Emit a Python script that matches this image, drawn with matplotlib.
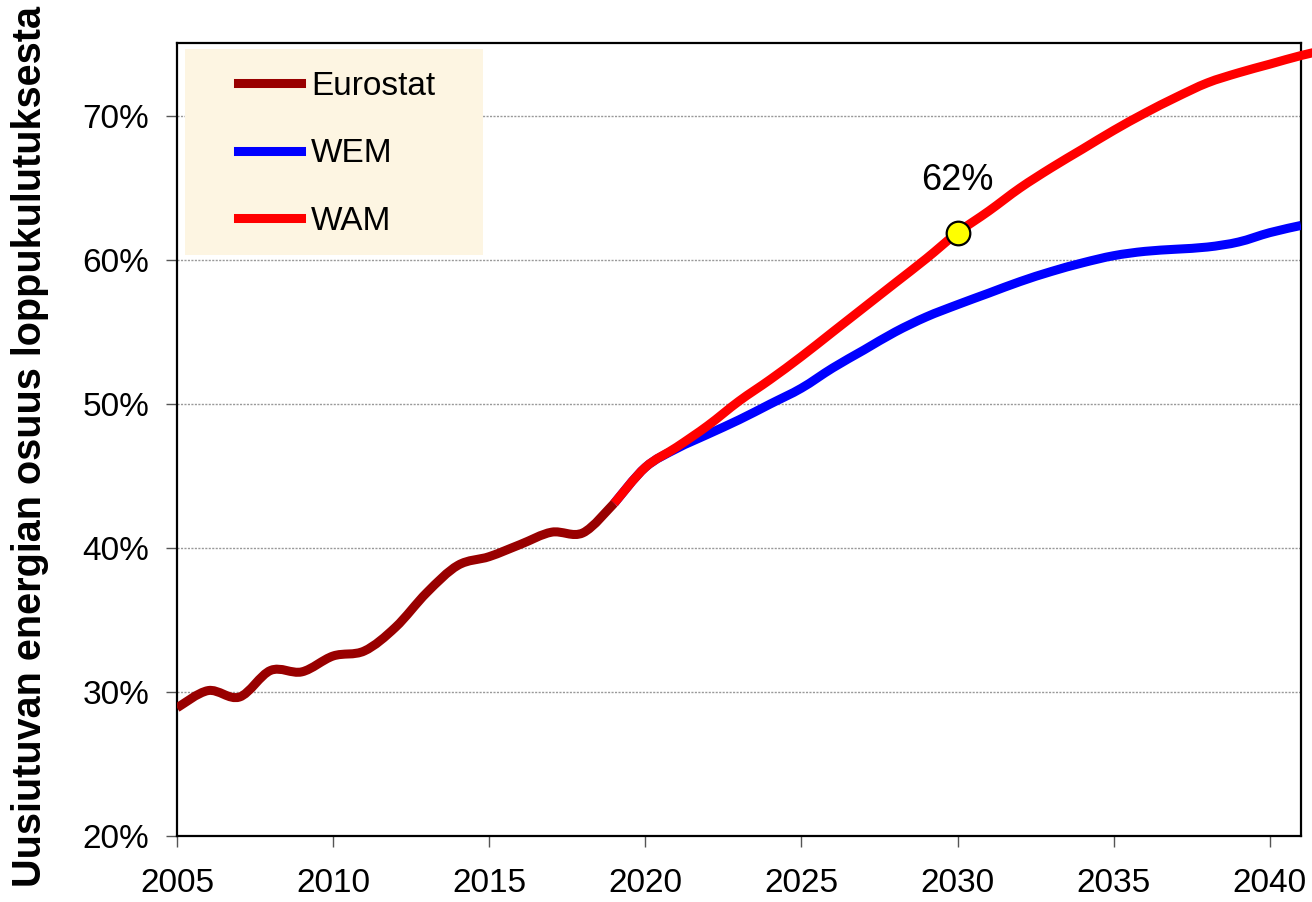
import matplotlib
matplotlib.use('Agg')
import matplotlib.pyplot as plt
from matplotlib.path import Path
from matplotlib.patches import PathPatch, Rectangle
from matplotlib.lines import Line2D
from matplotlib.ticker import FuncFormatter
import numpy as np

plt.rcParams['font.family'] = ['Liberation Sans', 'DejaVu Sans']

# Renewable share of final energy consumption (%)
eurostat_years = list(range(2005, 2020))
eurostat = [28.9, 30.1, 29.65, 31.5, 31.4, 32.5, 32.85, 34.5, 36.9, 38.8,
            39.4, 40.25, 41.1, 41.05, 43.1]

wem_years = list(range(2019, 2042))
wem = [43.1, 45.6, 46.9, 47.9, 48.9, 50.0, 51.1, 52.5, 53.75, 55.0, 56.05,
       56.9, 57.7, 58.5, 59.2, 59.8, 60.3, 60.6, 60.75, 60.9, 61.25, 61.9, 62.4]

wam_years = list(range(2019, 2043))
wam = [43.1, 45.6, 47.0, 48.5, 50.2, 51.7, 53.3, 55.0, 56.7, 58.4, 60.1,
       61.9, 63.4, 65.0, 66.4, 67.7, 69.0, 70.2, 71.3, 72.3, 73.0, 73.6, 74.2, 74.7]

target_year = 2030
target_value = 61.9
target_label = '62%'

labels = ['Eurostat', 'WEM', 'WAM']
colors = ['#990000', '#0000FF', '#FF0000']


def smooth_path(x, y):
    # Excel style smoothed line: cubic Bezier through every point
    pts = np.column_stack([x, y]).astype(float)
    n = len(pts)
    verts = [pts[0]]
    codes = [Path.MOVETO]
    for i in range(n - 1):
        p0 = pts[i - 1] if i > 0 else pts[i]
        p1 = pts[i]
        p2 = pts[i + 1]
        p3 = pts[i + 2] if i + 2 < n else pts[i + 1]
        verts += [p1 + (p2 - p0) / 6, p2 - (p3 - p1) / 6, p2]
        codes += [Path.CURVE4] * 3
    return Path(verts, codes)


fig = plt.figure(figsize=(13.12, 9.02), dpi=100)
ax = fig.add_axes([177 / 1312, 66 / 902, 1124 / 1312, 793 / 902])

lw = 6.5
for xs, ys, c, clip in [(wem_years, wem, colors[1], True),
                        (wam_years, wam, colors[2], False),
                        (eurostat_years, eurostat, colors[0], True)]:
    patch = PathPatch(smooth_path(xs, ys), facecolor='none', edgecolor=c,
                      lw=lw, capstyle='butt', joinstyle='round', zorder=3)
    patch.set_clip_on(clip)
    ax.add_patch(patch)

ax.plot([target_year], [target_value], 'o', ms=17, mfc='#FFFF00', mec='black',
        mew=1.6, zorder=5)
ax.text(target_year, target_value + 3.6, target_label, ha='center', va='center',
        fontsize=26, zorder=5)

ax.set_xlim(2005, 2041)
ax.set_ylim(20, 75.07)
ax.set_xticks(range(2005, 2041, 5))
ax.set_yticks(range(20, 71, 10))
ax.yaxis.set_major_formatter(FuncFormatter(lambda v, p: f'{v:.0f}%'))
ax.tick_params(axis='both', direction='out', length=8, width=1, color='#555555',
               labelsize=24)
ax.tick_params(axis='x', pad=15)
ax.tick_params(axis='y', pad=12)
ax.yaxis.grid(True, color='#999999', linestyle=(0, (1.5, 1)), lw=1)
ax.set_axisbelow(True)
for s in ax.spines.values():
    s.set_linewidth(1.6)
    s.set_color('black')

# legend background
ax.add_patch(Rectangle((0.0071, 0.7327), 0.265, 0.2597, transform=ax.transAxes,
                       facecolor='#FDF5E2', edgecolor='none', zorder=2))
handles = [Line2D([], [], color=c, lw=lw) for c in colors]
ax.legend(handles, labels, loc='upper left', bbox_to_anchor=(0.054, 0.965),
          frameon=False, fontsize=24, handlelength=1.9, handletextpad=0.3,
          labelspacing=1.1, borderpad=0, borderaxespad=0)

fig.text(30 / 1312, 0.505, 'Uusiutuvan energian osuus loppukulutuksesta',
         rotation=90, ha='center', va='center', fontsize=28.5, fontweight='bold')

fig.savefig('out.png', dpi=100)
